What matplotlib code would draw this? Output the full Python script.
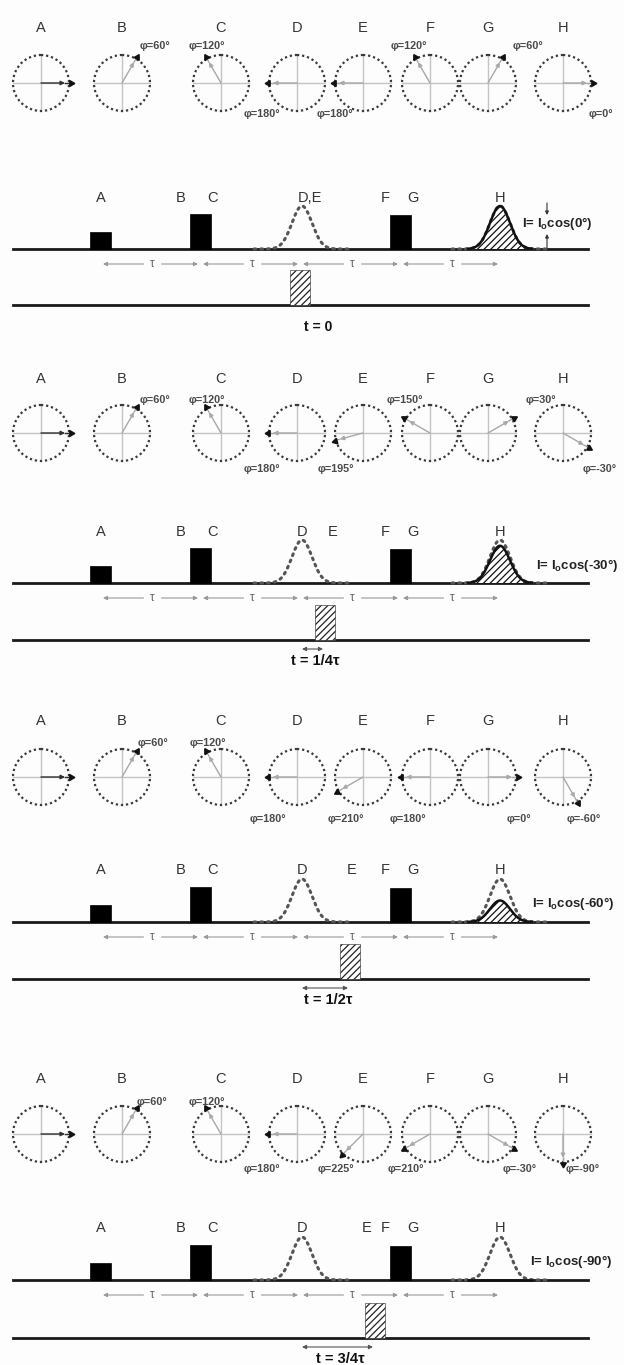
import numpy as np
import matplotlib
matplotlib.use("Agg")
import matplotlib.pyplot as plt
from matplotlib.patches import Circle, Rectangle

plt.rcParams['font.family'] = ['Liberation Sans', 'DejaVu Sans']
plt.rcParams['mathtext.fontset'] = 'custom'
plt.rcParams['mathtext.rm'] = 'Liberation Sans'
plt.rcParams['mathtext.bf'] = 'Liberation Sans:bold'
plt.rcParams['hatch.linewidth'] = 0.9

# ---------------- data ----------------
site_names = ["A", "B", "C", "D", "E", "F", "G", "H"]
# phase of each spin packet (degrees) in the four snapshots
phases = [
    [0, 60, 120, 180, 180, 120, 60, 0],
    [0, 60, 120, 180, 195, 150, 30, -30],
    [0, 60, 120, 180, 210, 180, 0, -60],
    [0, 60, 120, 180, 225, 210, -30, -90],
]
t_fraction = [0, 0.25, 0.5, 0.75]
t_labels = ["t = 0", "t = 1/4τ", "t = 1/2τ", "t = 3/4τ"]
echo_labels = ["I= I$_\\mathbf{o}$cos(0°)", "I= I$_\\mathbf{o}$cos(-30°)",
               "I= I$_\\mathbf{o}$cos(-60°)", "I= I$_\\mathbf{o}$cos(-90°)"]

pulse_times = [1, 2, 4]          # A, B/C, F/G  (in units of tau)
pulse_heights = [17, 35, 34]
echo_times = [3, 5]              # D/E stimulated echo, H detected echo
echo_Io = 43
probe_height = 35
tau_marks = [1, 2, 3, 4, 5]

# ---------------- layout (pixels) ----------------
W, H = 624, 1365
TAU = 100
circle_x = [41, 122, 221, 297, 363, 430, 488, 563]
R = 28
label_y = [28, 379, 721, 1079]
circle_y = [83, 433, 777, 1134]
pulse_label_y = [198, 532, 870, 1228]
baseline_y = [249, 583, 922, 1280]
bottom_y = [305, 640, 979, 1338]
phi_up = [-37, -33, -34, -32]
phi_down = [31, 36, 42, 35]
phi_label_x = [
    [None, 155, 207, 262, 335, 409, 528, 601],
    [None, 155, 207, 262, 336, 405, 541, 600],
    [None, 153, 208, 268, 346, 408, 519, 584],
    [None, 152, 207, 262, 336, 406, 520, 583],
]
E_label_x = [None, 333, 352, 367]
echo_label_x = [522, 536, 532, 530]

TXT = '#333333'
fig = plt.figure(figsize=(W / 100, H / 100), dpi=100)
fig.patch.set_facecolor('#fdfdfd')
ax = fig.add_axes([0, 0, 1, 1])
ax.set_xlim(0, W)
ax.set_ylim(H, 0)
ax.axis('off')
ax.set_facecolor('#fdfdfd')

dot_style = (0, (1, 1.3))


def gauss(x, c, a, s=10.0):
    return a * np.exp(-0.5 * ((x - c) / s) ** 2)


for p in range(4):
    cy = circle_y[p]
    # ---- phase circles ----
    for i, name in enumerate(site_names):
        cx = circle_x[i]
        ax.text(cx, label_y[p], name, ha='center', va='center', fontsize=10.5, color=TXT)
        ax.plot([cx - R, cx + R], [cy, cy], color='#c4c4c4', lw=1.0, zorder=1)
        ax.plot([cx, cx], [cy - R, cy + R], color='#c4c4c4', lw=1.0, zorder=1)
        ax.add_patch(Circle((cx, cy), R, fill=False, ec='#3a3a3a', lw=1.6,
                            linestyle=dot_style, zorder=2))
        ph = np.deg2rad(phases[p][i])
        tx, ty = cx + (R + 1.5) * np.cos(ph), cy - (R + 1.5) * np.sin(ph)
        vcol = '#303030' if i == 0 else '#a8a8a8'
        ax.annotate('', xy=(cx + (R - 4) * np.cos(ph), cy - (R - 4) * np.sin(ph)),
                    xytext=(cx, cy),
                    arrowprops=dict(arrowstyle='-|>', color=vcol, lw=1.0,
                                    mutation_scale=6, shrinkA=0, shrinkB=0,
                                    fc='none' if i else vcol), zorder=3)
        ax.plot([cx + (R - 4) * np.cos(ph), tx], [cy - (R - 4) * np.sin(ph), ty],
                color=vcol, lw=1.0, zorder=3)
        ax.plot(tx, ty, marker=(3, 0, phases[p][i] - 90), ms=4.8, color='#111111',
                zorder=4)
        if i > 0:
            up = np.sin(ph) > 0.01
            yy = cy + (phi_up[p] if up else phi_down[p])
            ax.text(phi_label_x[p][i], yy, f"φ={phases[p][i]}°", ha='center',
                    va='center', fontsize=7.8, fontweight='bold', color='#4a4a4a')

    # ---- pulse sequence row ----
    by = baseline_y[p]
    ax.plot([13, 588], [by, by], color='#1a1a1a', lw=2.0, zorder=2)
    for t, h in zip(pulse_times, pulse_heights):
        ax.add_patch(Rectangle((t * TAU - 10, by - h), 21, h, fc='#000000',
                               ec='#000000', lw=0.5, zorder=3))
    # pulse labels
    py = pulse_label_y[p]
    ax.text(pulse_times[0] * TAU + 1, py, "A", ha='center', va='center', fontsize=10.5, color=TXT)
    ax.text(pulse_times[1] * TAU - 19, py, "B", ha='center', va='center', fontsize=10.5, color=TXT)
    ax.text(pulse_times[1] * TAU + 12, py, "C", ha='center', va='center', fontsize=10.5, color=TXT)
    ax.text(pulse_times[2] * TAU - 15, py, "F", ha='center', va='center', fontsize=10.5, color=TXT)
    ax.text(pulse_times[2] * TAU + 13, py, "G", ha='center', va='center', fontsize=10.5, color=TXT)
    ax.text(echo_times[1] * TAU, py, "H", ha='center', va='center', fontsize=10.5, color=TXT)
    if p == 0:
        ax.text(echo_times[0] * TAU + 10, py, "D,E", ha='center', va='center', fontsize=10.5, color=TXT)
    else:
        ax.text(echo_times[0] * TAU + 2, py, "D", ha='center', va='center', fontsize=10.5, color=TXT)
        ax.text(E_label_x[p], py, "E", ha='center', va='center', fontsize=10.5, color=TXT)

    # echoes: dotted reference envelopes
    for c in echo_times:
        xc = c * TAU + (2 if c == 3 else 0)
        xx = np.linspace(xc - 48, xc + 48, 200)
        ax.plot(xx, by - gauss(xx, xc, echo_Io), color='#555555', lw=2.2,
                linestyle=(0, (0.6, 1.6)), dash_capstyle='round', zorder=4)
    # detected echo H: amplitude Io*cos(phi_H)
    amp = echo_Io * np.cos(np.deg2rad(phases[p][7]))
    xc = echo_times[1] * TAU
    xx = np.linspace(xc - 32, xc + 32, 200)
    yy = by - gauss(xx, xc, amp)
    ax.fill_between(xx, by, yy, fc='white', ec='#111111', hatch='/////', lw=0, zorder=3)
    ax.plot(xx, yy, color='#111111', lw=1.8, zorder=5)
    ax.text(echo_label_x[p], by - (26 if p == 0 else 18), echo_labels[p], ha='left',
            va='center', fontsize=9.5, fontweight='bold', color='#222222')
    if p == 0:
        ax.annotate('', xy=(547, by - amp + 9), xytext=(547, by - amp - 3),
                    arrowprops=dict(arrowstyle='-|>', color='#333', lw=0.8,
                                    mutation_scale=5, shrinkA=0, shrinkB=0))
        ax.annotate('', xy=(547, by - 15), xytext=(547, by - 1),
                    arrowprops=dict(arrowstyle='-|>', color='#333', lw=0.8,
                                    mutation_scale=5, shrinkA=0, shrinkB=0))

    # tau arrows
    ty = by + 15
    for a, b in zip(tau_marks[:-1], tau_marks[1:]):
        xa, xb = a * TAU + 3, b * TAU - 2
        mid = (xa + xb) / 2 + 2
        for end, start in ((xa, mid - 9), (xb, mid + 9)):
            ax.annotate('', xy=(end, ty), xytext=(start, ty),
                        arrowprops=dict(arrowstyle='-|>', color='#9a9a9a', lw=0.8,
                                        mutation_scale=6, shrinkA=0, shrinkB=0))
        ax.text(mid, ty, "τ", ha='center', va='center', fontsize=8.5, color='#666666')

    # probe row
    bb = bottom_y[p]
    ax.plot([13, 588], [bb, bb], color='#1a1a1a', lw=2.0, zorder=2)
    xe = echo_times[0] * TAU + t_fraction[p] * TAU
    ax.add_patch(Rectangle((xe - 10, bb - probe_height), 20, probe_height, fc='white',
                           ec='#222222', hatch='/////', lw=0.4, zorder=3))
    if t_fraction[p] > 0:
        ax.annotate('', xy=(xe - 2, bb + 9), xytext=(echo_times[0] * TAU + 2, bb + 9),
                    arrowprops=dict(arrowstyle='<|-|>', color='#555555', lw=0.8,
                                    mutation_scale=6, shrinkA=0, shrinkB=0))
        tly = bb + 21
        tsize = 10.5
    else:
        tly = bb + 22
        tsize = 10
    ax.text((echo_times[0] * TAU + xe) / 2 + 18 - 15 * (t_fraction[p] > 0), tly, t_labels[p],
            ha='center', va='center', fontsize=tsize, fontweight='bold', color='#111111')

fig.savefig("out.png", dpi=100, facecolor=fig.get_facecolor())
